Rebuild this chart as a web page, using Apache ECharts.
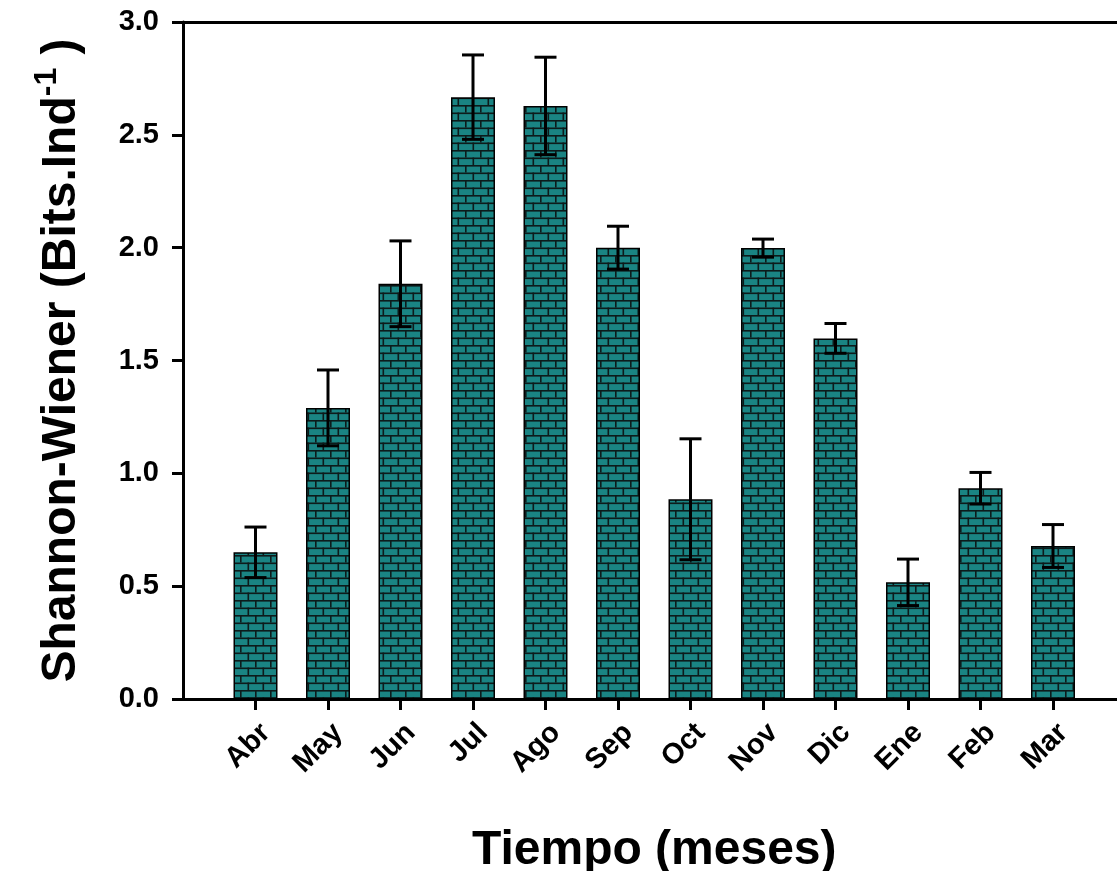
<!DOCTYPE html>
<html>
<head>
<meta charset="utf-8">
<script src="https://cdn.jsdelivr.net/npm/echarts@6/dist/echarts.min.js"></script>
<style>
  html, body { margin: 0; padding: 0; background: #ffffff; }
  #chart { width: 1117px; height: 871px; }
</style>
</head>
<body>
<div id="chart"></div>
<script>
// Monthly Shannon-Wiener diversity (mean and error)
const months = ['Abr', 'May', 'Jun', 'Jul', 'Ago', 'Sep', 'Oct', 'Nov', 'Dic', 'Ene', 'Feb', 'Mar'];
const diversity = [0.65, 1.29, 1.84, 2.667, 2.628, 2.0, 0.885, 1.998, 1.598, 0.517, 0.934, 0.678];
const errors = [0.112, 0.168, 0.19, 0.187, 0.216, 0.095, 0.268, 0.04, 0.066, 0.103, 0.07, 0.095];
const yTicks = ['0.0', '0.5', '1.0', '1.5', '2.0', '2.5', '3.0'];

// Category axis padded with one empty slot on each side
const axisCats = [''].concat(months, ['']);
const barData = [null].concat(diversity, [null]);
const errData = months.map((m, i) => [i + 1, diversity[i] - errors[i], diversity[i] + errors[i]]);

// Brick fill pattern
function brickPattern() {
  const c = document.createElement('canvas');
  c.width = 30; c.height = 15;
  const g = c.getContext('2d');
  g.fillStyle = '#1a8483';
  g.fillRect(0, 0, 30, 15);
  g.fillStyle = '#0d1b1b';
  g.fillRect(0, 0, 30, 1.6);
  g.fillRect(0, 7.5, 30, 1.6);
  g.fillRect(0, 0, 1.6, 7.5);
  g.fillRect(15, 0, 1.6, 7.5);
  g.fillRect(7.5, 7.5, 1.6, 7.5);
  g.fillRect(22.5, 7.5, 1.6, 7.5);
  return c;
}

const chart = echarts.init(document.getElementById('chart'), null, { renderer: 'canvas' });
const fontFam = '"Liberation Sans", Arial, sans-serif';
const showSlot = (idx, val) => val !== '';

chart.setOption({
  backgroundColor: '#ffffff',
  animation: false,
  grid: { left: 183, top: 22, bottom: 172, right: -8.5, containLabel: false, outerBoundsMode: 'none' },
  xAxis: [{
    type: 'category',
    data: axisCats,
    boundaryGap: false,
    position: 'bottom',
    axisLine: { lineStyle: { color: '#000', width: 3 } },
    axisTick: { show: true, interval: showSlot, length: 11, lineStyle: { color: '#000', width: 3 } },
    axisLabel: {
      interval: showSlot, rotate: 45, margin: 19, verticalAlign: 'top',
      color: '#000', fontSize: 29, fontWeight: 'bold', fontFamily: fontFam
    },
    splitLine: { show: false },
    name: 'Tiempo (meses)',
    nameLocation: 'middle',
    nameGap: 128,
    nameTextStyle: { color: '#000', fontSize: 48, fontWeight: 'bold', fontFamily: fontFam }
  }, {
    type: 'category',
    data: axisCats,
    boundaryGap: false,
    position: 'top',
    axisLine: { lineStyle: { color: '#000', width: 3 } },
    axisTick: { show: false },
    axisLabel: { show: false },
    splitLine: { show: false }
  }],
  yAxis: {
    type: 'value',
    min: 0, max: 3, interval: 0.5,
    axisLine: { show: true, lineStyle: { color: '#000', width: 3 } },
    axisTick: { show: true, length: 11, lineStyle: { color: '#000', width: 3 } },
    axisLabel: {
      margin: 24, color: '#000', fontSize: 29, fontWeight: 'bold', fontFamily: fontFam,
      formatter: (v) => yTicks[Math.round(v / 0.5)]
    },
    splitLine: { show: false },
    name: '{m|Shannon-Wiener (Bits.Ind}{s|-1}{m| )}',
    nameLocation: 'middle',
    nameRotate: 90,
    nameGap: 90,
    nameTextStyle: {
      color: '#000', fontFamily: fontFam,
      rich: {
        m: { fontSize: 48, fontWeight: 'bold', color: '#000', fontFamily: fontFam },
        s: { fontSize: 32, fontWeight: 'bold', color: '#000', fontFamily: fontFam, verticalAlign: 'top', padding: [0, 0, 30, 0] }
      }
    }
  },
  series: [{
    type: 'bar',
    data: barData,
    barWidth: 44,
    itemStyle: {
      color: { image: brickPattern(), repeat: 'repeat' },
      borderColor: '#000',
      borderWidth: 1.5
    },
    z: 2
  }, {
    type: 'custom',
    data: errData,
    z: 3,
    renderItem: function (params, api) {
      const x = api.value(0);
      const lo = api.coord([x, api.value(1)]);
      const hi = api.coord([x, api.value(2)]);
      const half = 11;
      const st = { stroke: '#000', lineWidth: 3 };
      return {
        type: 'group',
        children: [
          { type: 'line', shape: { x1: hi[0], y1: hi[1], x2: lo[0], y2: lo[1] }, style: st },
          { type: 'line', shape: { x1: hi[0] - half, y1: hi[1], x2: hi[0] + half, y2: hi[1] }, style: st },
          { type: 'line', shape: { x1: lo[0] - half, y1: lo[1], x2: lo[0] + half, y2: lo[1] }, style: st }
        ]
      };
    }
  }]
});
</script>
</body>
</html>
